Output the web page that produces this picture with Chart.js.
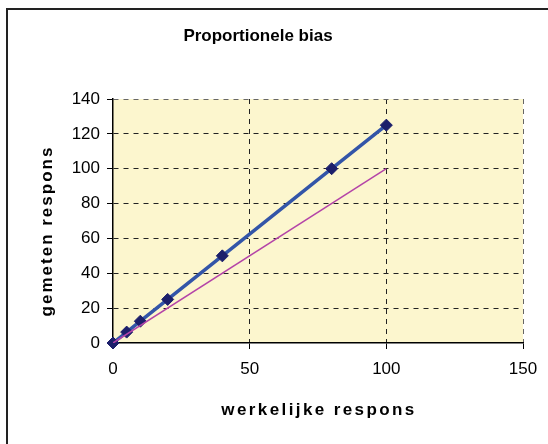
<!DOCTYPE html>
<html>
<head>
<meta charset="utf-8">
<script src="https://cdn.jsdelivr.net/npm/chart.js@4"></script>
<style>
  html, body { margin: 0; padding: 0; background: #fff; }
  #wrap { width: 548px; height: 444px; }
</style>
</head>
<body>
<div id="wrap"><canvas id="chart" width="548" height="444"></canvas></div>
<script>
const TITLE = 'Proportionele bias';
const X_TITLE = 'werkelijke respons';
const Y_TITLE = 'gemeten respons';

// gemeten tegen werkelijke respons
const X_VALUES = [0, 5, 10, 20, 40, 80, 100];
const Y_VALUES = [0, 6.25, 12.5, 25, 50, 100, 125];
// ideale lijn y = x
const IDEAL_X = [0, 100];
const IDEAL_Y = [0, 100];

const FONT = "'Liberation Sans', Arial, sans-serif";

const toPoints = (xs, ys) => xs.map((x, i) => ({x: x, y: ys[i]}));

// achtergrond van het plotgebied, kader en titels
const decorPlugin = {
    id: 'decor',
    beforeDraw(chart) {
        const {ctx, chartArea} = chart;
        ctx.save();
        ctx.fillStyle = '#FCF6CE';
        ctx.fillRect(chartArea.left, chartArea.top, chartArea.width, chartArea.height);
        ctx.restore();
    },
    afterDraw(chart) {
        const {ctx, chartArea} = chart;
        ctx.save();
        ctx.strokeStyle = '#222';
        ctx.lineWidth = 2;
        ctx.strokeRect(7, 9, 600, 500);

        ctx.fillStyle = '#000';
        ctx.textAlign = 'center';
        ctx.textBaseline = 'middle';
        ctx.font = 'bold 17px ' + FONT;
        ctx.fillText(TITLE, 258, 36);

        ctx.letterSpacing = '2.4px';
        ctx.fillText(X_TITLE, (chartArea.left + chartArea.right) / 2 + 1, 410);

        ctx.letterSpacing = '2px';
        ctx.translate(47, (chartArea.top + chartArea.bottom) / 2 + 10);
        ctx.rotate(-Math.PI / 2);
        ctx.fillText(Y_TITLE, 0, 0);
        ctx.restore();
    }
};

// rand van het plotgebied grijs, as zelf (waarde 0) getekend door de border
const gridColor = (edge) => (ctx) => {
    if (!ctx.tick) return '#222';
    if (ctx.tick.value === 0) return 'rgba(0,0,0,0)';
    return ctx.tick.value === edge ? '#666' : '#222';
};

new Chart(document.getElementById('chart'), {
    type: 'scatter',
    data: {
        datasets: [
            {
                data: toPoints(X_VALUES, Y_VALUES),
                showLine: true,
                clip: false,
                borderColor: '#3355A8',
                borderWidth: 3.5,
                pointStyle: 'rectRot',
                pointRadius: 6,
                pointBackgroundColor: '#1C1F6B',
                pointBorderColor: '#1C1F6B',
                pointBorderWidth: 1,
                order: 1
            },
            {
                data: toPoints(IDEAL_X, IDEAL_Y),
                showLine: true,
                borderColor: '#B444A8',
                borderWidth: 1.5,
                pointRadius: 0,
                order: 0
            }
        ]
    },
    options: {
        responsive: false,
        animation: false,
        layout: {padding: {top: 99, right: 25, left: 0, bottom: 0}},
        plugins: {
            legend: {display: false},
            title: {display: false},
            tooltip: {enabled: false}
        },
        scales: {
            x: {
                type: 'linear',
                min: 0,
                max: 150,
                afterFit: (scale) => { scale.height = 101; },
                ticks: {
                    stepSize: 50,
                    color: '#000',
                    padding: 10,
                    font: {family: FONT, size: 17}
                },
                grid: {
                    color: gridColor(150),
                    lineWidth: 1,
                    tickLength: 6,
                    tickColor: '#000',
                    tickBorderDash: []
                },
                border: {display: true, color: '#000', width: 1.5, dash: [5, 5]}
            },
            y: {
                type: 'linear',
                min: 0,
                max: 140,
                afterFit: (scale) => { scale.width = 113; },
                ticks: {
                    stepSize: 20,
                    color: '#000',
                    padding: 7,
                    font: {family: FONT, size: 17}
                },
                grid: {
                    color: gridColor(140),
                    lineWidth: 1,
                    tickLength: 6,
                    tickColor: '#000',
                    tickBorderDash: []
                },
                border: {display: true, color: '#000', width: 1.5, dash: [5, 5]}
            }
        }
    },
    plugins: [decorPlugin]
});
</script>
</body>
</html>
